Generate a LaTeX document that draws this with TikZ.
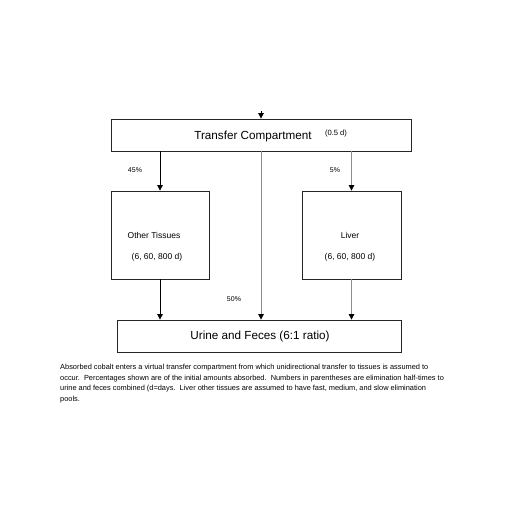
\documentclass[tikz,border=0pt]{standalone}
\usepackage{fontspec}
\setmainfont{Liberation Sans}
\usetikzlibrary{arrows.meta}
\tikzset{
  box/.style={draw=black!85, fill=white, line width=0.8pt},
  flow/.style={->, line width=0.8pt},
  pale/.style={-{Triangle[length=5.5pt,width=5.5pt,color=black]}, line width=0.8pt, draw=black!45},
  pct/.style={font=\fontsize{7}{8}\selectfont},
}
\begin{document}
\begin{tikzpicture}[x=1pt,y=-1pt,>={Triangle[length=5.5pt,width=5.5pt]}]
        \useasboundingbox[fill=white] (0,0) rectangle (512,512);
        % boxes
        \node[box, minimum width=300pt, minimum height=32pt] at (261,135) (transfer) {};
        \node[box, minimum width=98pt, minimum height=88pt] at (160,235) (other) {};
        \node[box, minimum width=99pt, minimum height=88pt] at (351.5,235) (liver) {};
        \node[box, minimum width=284pt, minimum height=32pt] at (259,336) (urine) {};

        \node[font=\fontsize{11.7}{13}\selectfont] at (253,136) (transfertxt) {Transfer Compartment};
        \node[font=\fontsize{7.6}{9}\selectfont] at (336,134) (transferhl) {(0.5 d)};
        \node[font=\fontsize{8.5}{10}\selectfont] at (154,235) (othertxt) {Other Tissues};
        \node[font=\fontsize{8.5}{10}\selectfont] at (157,257) (otherhl) {(6, 60, 800 d)};
        \node[font=\fontsize{8.5}{10}\selectfont] at (350,235) (livertxt) {Liver};
        \node[font=\fontsize{8.5}{10}\selectfont] at (350,257) (liverhl) {(6, 60, 800 d)};
        \node[font=\fontsize{11.7}{13}\selectfont] at (260,336) (urinetxt) {Urine and Feces (6:1 ratio)};

        % intake
        \coordinate (intake) at (261,111);
        \draw[flow] (intake) -- (transfer.north);

        % transfers
        \draw[flow] (other.north|-transfer.south) -- (other.north);
        \draw[pale] (transfer.south) -- (transfer.south|-urine.north);
        \draw[pale] (liver.north|-transfer.south) -- (liver.north);
        \draw[flow] (other.south) -- (other.south|-urine.north);
        \draw[pale] (liver.south) -- (liver.south|-urine.north);

        \node[pct] at (135,170) (p45) {45\%};
        \node[pct] at (335,170) (p5) {5\%};
        \node[pct] at (234,299) (p50) {50\%};

        % caption
        \node[anchor=north west, inner sep=0pt, align=left, font=\fontsize{7.4}{10.7}\selectfont] at (60,364) (caption) {Absorbed cobalt enters a virtual transfer compartment from which unidirectional transfer to tissues is assumed to\\occur.\ \ Percentages shown are of the initial amounts absorbed.\ \ Numbers in parentheses are elimination half-times to\\urine and feces combined (d=days.\ \ Liver other tissues are assumed to have fast, medium, and slow elimination\\pools.};
\end{tikzpicture}
\end{document}
